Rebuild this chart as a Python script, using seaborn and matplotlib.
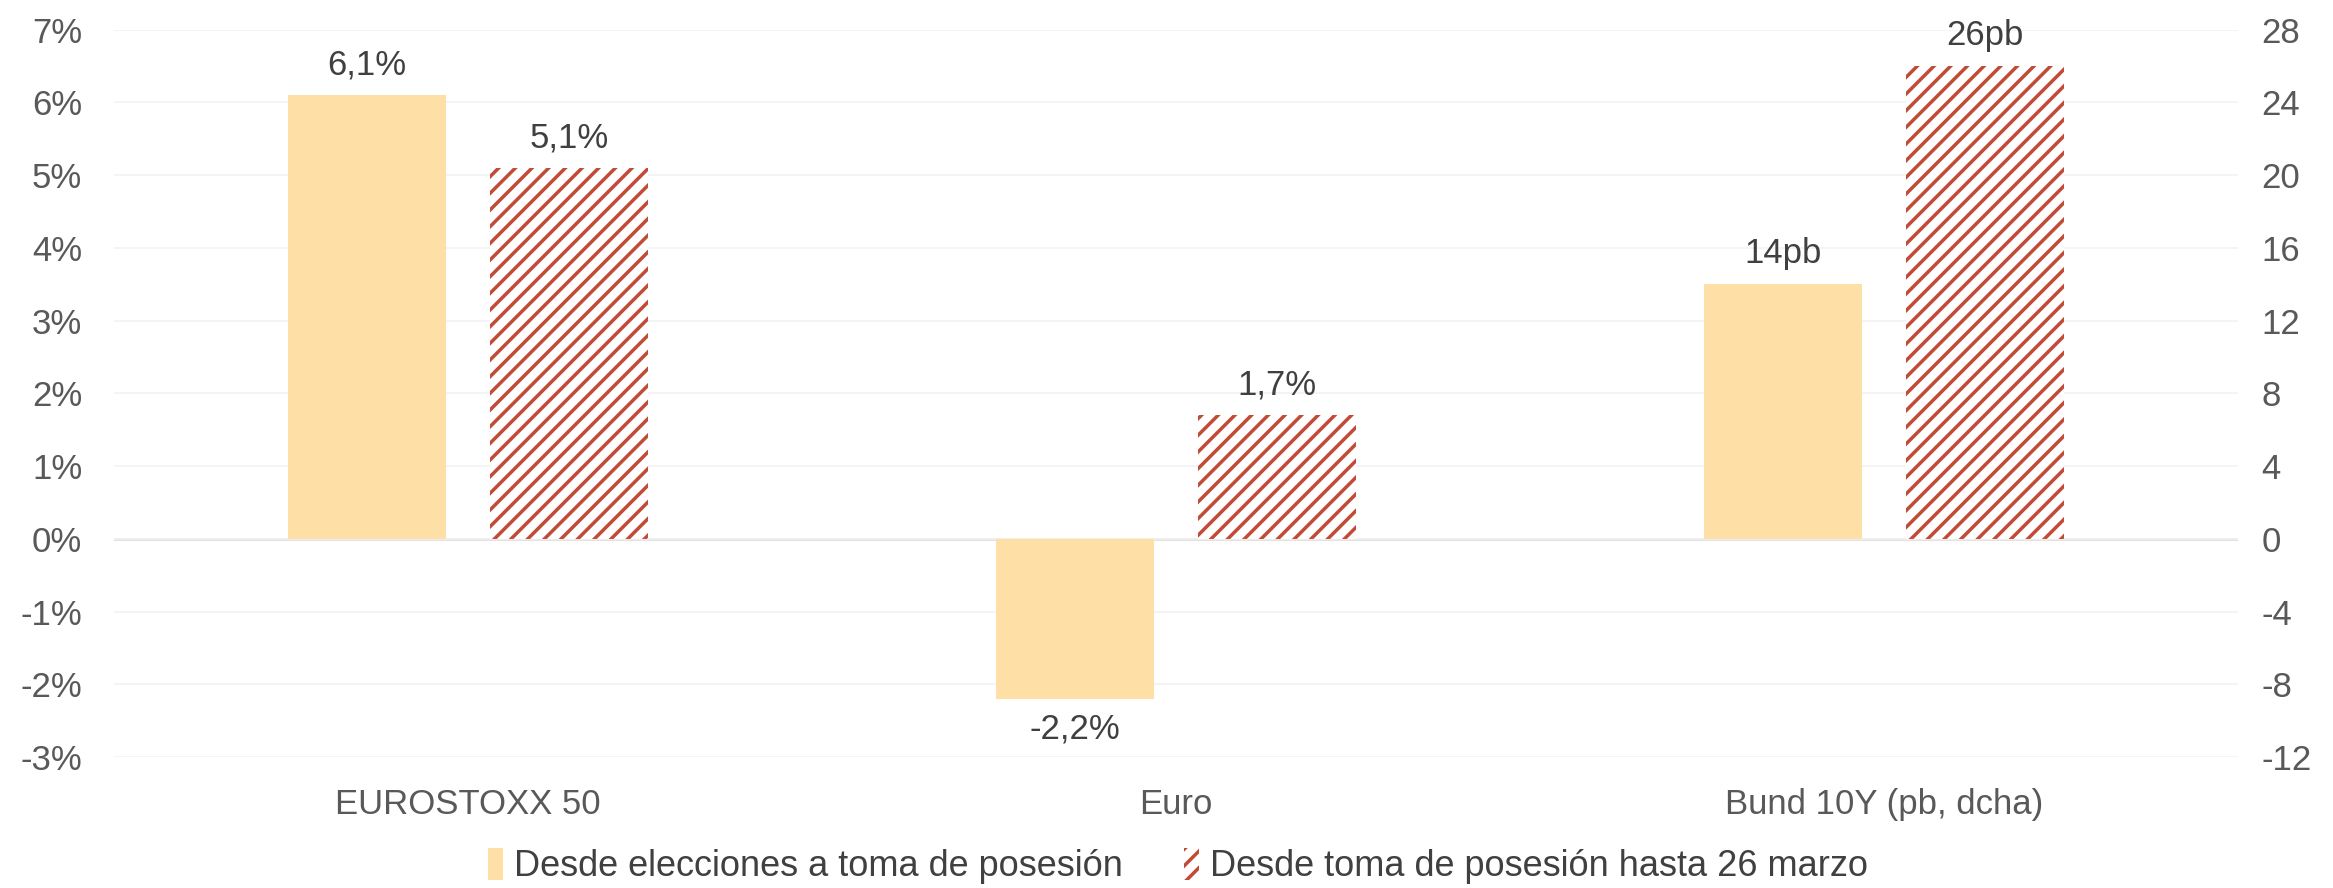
import pandas as pd
import matplotlib
matplotlib.use("Agg")
import matplotlib.pyplot as plt
from matplotlib.patches import Patch
import seaborn as sns

categorias = ['EUROSTOXX 50', 'Euro', 'Bund 10Y (pb, dcha)']
series = ['Desde elecciones a toma de posesión', 'Desde toma de posesión hasta 26 marzo']
# % para EUROSTOXX y Euro, pb para el Bund (eje derecho)
valores_1 = [6.1, -2.2, 14]
valores_2 = [5.1, 1.7, 26]
etiquetas_1 = ['6,1%', '-2,2%', '14pb']
etiquetas_2 = ['5,1%', '1,7%', '26pb']
ticks_izq = [-3, -2, -1, 0, 1, 2, 3, 4, 5, 6, 7]
ticks_dcha = [-12, -8, -4, 0, 4, 8, 12, 16, 20, 24, 28]

amarillo = '#FEE0A6'
rojo = '#C24B37'
texto = '#404040'
gris = '#595959'

filas = []
for i, cat in enumerate(categorias):
    filas.append({'cat': cat, 'serie': series[0], 'valor': valores_1[i], 'etq': etiquetas_1[i]})
    filas.append({'cat': cat, 'serie': series[1], 'valor': valores_2[i], 'etq': etiquetas_2[i]})
df = pd.DataFrame(filas)
df_izq = df[df['cat'] != categorias[2]]
df_dcha = df[df['cat'] == categorias[2]]

sns.set_style("white")
plt.rcParams['font.family'] = ['Liberation Sans', 'DejaVu Sans']
plt.rcParams['hatch.linewidth'] = 2.5

fig = plt.figure(figsize=(23.33, 8.88), dpi=100)
ax = fig.add_axes([0.0489, 0.1475, 0.9104, 0.819])
ax2 = ax.twinx()

paleta = {series[0]: amarillo, series[1]: rojo}
sns.barplot(data=df_izq, x='cat', y='valor', hue='serie', order=categorias, hue_order=series,
            palette=paleta, saturation=1, width=0.572, gap=0.22, ax=ax, legend=False, errorbar=None)
sns.barplot(data=df_dcha, x='cat', y='valor', hue='serie', order=categorias, hue_order=series,
            palette=paleta, saturation=1, width=0.572, gap=0.22, ax=ax2, legend=False, errorbar=None)

for eje, sub in [(ax, df_izq), (ax2, df_dcha)]:
    for j, cont in enumerate(eje.containers):
        for p in cont.patches:
            p.set_linewidth(0)
            if j == 1:
                p.set_facecolor('white')
                p.set_edgecolor(rojo)
                p.set_hatch('//')
        etqs = list(sub[sub['serie'] == series[j]]['etq'])
        eje.bar_label(cont, labels=etqs, padding=10, fontsize=25, color=texto)

ax.set_ylim(-3, 7)
ax2.set_ylim(-12, 28)
ax.set_yticks(ticks_izq)
ax.set_yticklabels([f'{t}%' for t in ticks_izq])
ax2.set_yticks(ticks_dcha)
ax2.set_yticklabels([str(t) for t in ticks_dcha])

ax.grid(axis='y', color='#F2F2F2', linewidth=1.2)
ax.set_axisbelow(True)
ax.axhline(0, color='#D9D9D9', linewidth=1.8, zorder=0.5)

for eje in (ax, ax2):
    for s in eje.spines.values():
        s.set_visible(False)
    eje.tick_params(axis='both', length=0, labelsize=25, labelcolor=gris)
    eje.set_xlabel('')
    eje.set_ylabel('')
ax.tick_params(axis='x', pad=22)
ax.tick_params(axis='y', pad=23)
ax2.tick_params(axis='y', pad=17)

handles = [Patch(facecolor=amarillo, edgecolor=amarillo, linewidth=0),
           Patch(facecolor='white', edgecolor=rojo, hatch='//', linewidth=0)]
fig.legend(handles, series, loc='center', bbox_to_anchor=(0.505, 0.025), ncol=2, frameon=False,
           fontsize=26, handlelength=0.42, handleheight=1.0, handletextpad=0.3, columnspacing=1.7,
           labelcolor=texto)

fig.savefig('out.png', dpi=100)
